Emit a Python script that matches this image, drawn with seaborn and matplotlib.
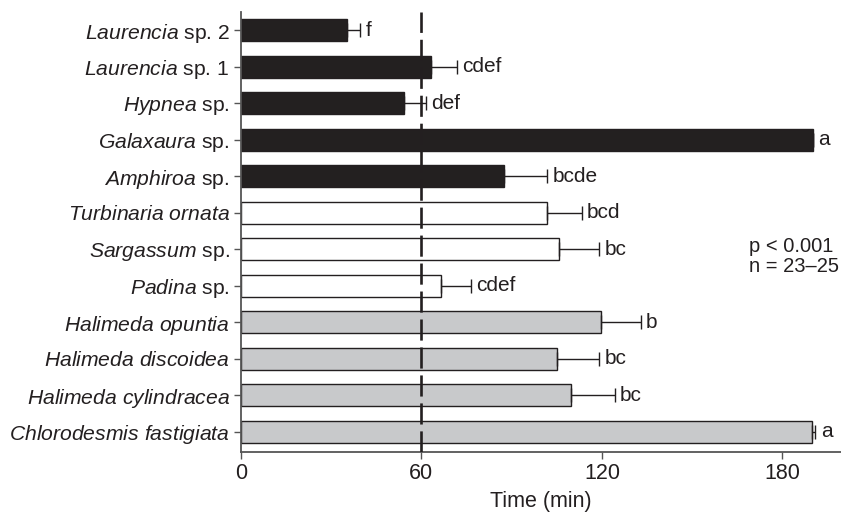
import matplotlib
matplotlib.use("Agg")
import matplotlib.pyplot as plt
import seaborn as sns
import pandas as pd

species = [
    r"$\mathit{Laurencia}$ sp. 2",
    r"$\mathit{Laurencia}$ sp. 1",
    r"$\mathit{Hypnea}$ sp.",
    r"$\mathit{Galaxaura}$ sp.",
    r"$\mathit{Amphiroa}$ sp.",
    r"$\mathit{Turbinaria\ ornata}$",
    r"$\mathit{Sargassum}$ sp.",
    r"$\mathit{Padina}$ sp.",
    r"$\mathit{Halimeda\ opuntia}$",
    r"$\mathit{Halimeda\ discoidea}$",
    r"$\mathit{Halimeda\ cylindracea}$",
    r"$\mathit{Chlorodesmis\ fastigiata}$",
]
group = ["red"] * 5 + ["brown"] * 3 + ["green"] * 4
mean_time = [35.2, 63.1, 54.2, 190.2, 87.5, 101.7, 105.9, 66.6, 119.6, 105.2, 109.7, 190.0]
se_time = [4.4, 8.6, 7.3, 0.0, 14.2, 11.6, 13.3, 9.8, 13.3, 13.8, 14.5, 1.0]
letters = ["f", "cdef", "def", "a", "bcde", "bcd", "bc", "cdef", "b", "bc", "bc", "a"]
xticks = [0, 60, 120, 180]

sns.set_theme(style="ticks")
plt.rcParams["font.family"] = ["Liberation Sans", "DejaVu Sans"]
plt.rcParams["mathtext.fontset"] = "custom"
plt.rcParams["mathtext.rm"] = "Liberation Sans"
plt.rcParams["mathtext.it"] = "Liberation Sans:italic"

df = pd.DataFrame({"species": species, "time": mean_time, "group": group})
palette = {"red": "#231f20", "brown": "#ffffff", "green": "#c8c9cb"}

fig = plt.figure(figsize=(8.41, 5.2), dpi=100)
ax = fig.add_axes([0.2865, 0.131, 0.7135, 0.846])

sns.barplot(data=df, x="time", y="species", hue="group", palette=palette,
            order=species, dodge=False, width=0.6, edgecolor="#231f20",
            linewidth=1.0, legend=False, ax=ax, errorbar=None)

ypos = list(range(len(species)))
ax.errorbar(mean_time, ypos, xerr=[[0] * len(se_time), se_time], fmt="none",
            ecolor="#231f20", elinewidth=1.0, capsize=5, capthick=1.0, zorder=3)

for y, m, s, lab in zip(ypos, mean_time, se_time, letters):
    ax.text(m + s + 1.8, y, lab, va="center", ha="left", fontsize=15, color="#231f20")

ax.axvline(60, color="#231f20", lw=1.9, ls=(0, (8, 2.6)), zorder=4)

ax.text(169.0, 6.2, "p < 0.001\nn = 23–25", fontsize=14.5, va="center", ha="left",
        linespacing=1.1, color="#231f20", clip_on=False)

ax.set_xlim(0, 199.5)
ax.set_ylim(11.55, -0.5)
ax.set_xticks(xticks)
ax.set_xticklabels([str(t) for t in xticks])
ax.set_xlabel("Time (min)", fontsize=15.5, labelpad=5, color="#231f20")
ax.set_ylabel("")
ax.tick_params(axis="y", labelsize=15.2, length=5, width=1, color="#555555", pad=3, labelcolor="#231f20")
ax.tick_params(axis="x", labelsize=15.5, length=5, width=1, color="#555555", pad=3, labelcolor="#231f20")
sns.despine(ax=ax)
for sp in ["left", "bottom"]:
    ax.spines[sp].set_color("#555555")
    ax.spines[sp].set_linewidth(1.3)

fig.savefig("out.png", dpi=100)
